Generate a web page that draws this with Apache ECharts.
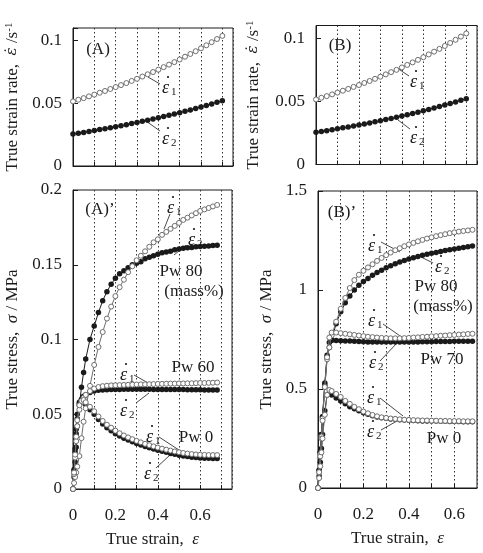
<!DOCTYPE html>
<html>
<head>
<meta charset="utf-8">
<script src="https://cdn.jsdelivr.net/npm/echarts@6/dist/echarts.min.js"></script>
<style>
  html, body { margin: 0; padding: 0; background: #fff; }
  #chart { width: 483px; height: 553px; }
</style>
</head>
<body>
<div id="chart"></div>
<script>
// strain points for the rate panels (A), (B)
const rateStrain = [0, 0.025, 0.05, 0.075, 0.1, 0.125, 0.15, 0.175, 0.2, 0.225, 0.25, 0.275, 0.3, 0.325,
  0.35, 0.375, 0.4, 0.425, 0.45, 0.475, 0.5, 0.525, 0.55, 0.575, 0.6, 0.625, 0.65, 0.675, 0.7]
const rate1 = [0.0515, 0.0528, 0.0541, 0.0555, 0.0569, 0.0584, 0.0598, 0.0614, 0.0629, 0.0645, 0.0661,
  0.0678, 0.0695, 0.0713, 0.0731, 0.0749, 0.0768, 0.0788, 0.0808, 0.0828, 0.0849, 0.0871, 0.0893,
  0.0915, 0.0938, 0.0962, 0.0987, 0.1012, 0.1037]
const rate2 = [0.0255, 0.0262, 0.0268, 0.0275, 0.0283, 0.0290, 0.0297, 0.0305, 0.0313, 0.0321, 0.0329,
  0.0338, 0.0347, 0.0356, 0.0365, 0.0374, 0.0384, 0.0394, 0.0404, 0.0414, 0.0425, 0.0436, 0.0447,
  0.0459, 0.0471, 0.0483, 0.0495, 0.0508, 0.0521]

// strain points for the stress panels (A)', (B)'
const strain = [0, 0.005, 0.01, 0.015, 0.02, 0.03, 0.04, 0.05, 0.06, 0.08, 0.10, 0.12, 0.14, 0.16, 0.18,
  0.20, 0.22, 0.24, 0.26, 0.28, 0.30, 0.32, 0.34, 0.36, 0.38, 0.40, 0.42, 0.44, 0.46, 0.48, 0.50, 0.52,
  0.54, 0.56, 0.58, 0.60, 0.62, 0.64, 0.66, 0.68]

// (A)' stress / MPa
const a80e1 = [0, 0.004, 0.008, 0.011, 0.015, 0.022, 0.034, 0.045, 0.054, 0.069, 0.083, 0.095, 0.105, 0.114,
  0.122, 0.129, 0.135, 0.140, 0.145, 0.149, 0.153, 0.156, 0.159, 0.162, 0.165, 0.167, 0.170, 0.172, 0.174,
  0.176, 0.178, 0.180, 0.1815, 0.183, 0.1845, 0.186, 0.187, 0.188, 0.189, 0.190]
const a80e2 = [0, 0.008, 0.018, 0.028, 0.042, 0.056, 0.068, 0.078, 0.087, 0.100, 0.109, 0.118, 0.126, 0.132,
  0.137, 0.141, 0.144, 0.146, 0.148, 0.150, 0.151, 0.152, 0.154, 0.155, 0.156, 0.157, 0.158, 0.1585, 0.159,
  0.160, 0.1605, 0.161, 0.1613, 0.1616, 0.162, 0.1622, 0.1624, 0.1626, 0.1628, 0.163]
const a60e1 = [0, 0.010, 0.021, 0.032, 0.042, 0.053, 0.058, 0.061, 0.063, 0.0655, 0.0672, 0.0682, 0.0688,
  0.0691, 0.0693, 0.0694, 0.0695, 0.0696, 0.0697, 0.0698, 0.0699, 0.070, 0.070, 0.0701, 0.0702, 0.0703,
  0.0703, 0.0704, 0.0705, 0.0705, 0.0706, 0.0706, 0.0707, 0.0707, 0.0708, 0.0709, 0.0709, 0.071, 0.0711, 0.0712]
const a60e2 = [0, 0.012, 0.025, 0.037, 0.047, 0.057, 0.060, 0.062, 0.063, 0.0645, 0.0655, 0.066, 0.0662,
  0.0664, 0.0665, 0.0666, 0.0666, 0.0667, 0.0667, 0.0667, 0.0667, 0.0667, 0.0667, 0.0667, 0.0666, 0.0666,
  0.0666, 0.0666, 0.0665, 0.0665, 0.0665, 0.0665, 0.0664, 0.0664, 0.0664, 0.0664, 0.0663, 0.0663, 0.0663, 0.0663]
const a0e1 = [0, 0.011, 0.023, 0.035, 0.046, 0.056, 0.059, 0.0595, 0.058, 0.055, 0.052, 0.0485, 0.0455, 0.043,
  0.041, 0.039, 0.0373, 0.0358, 0.0345, 0.0333, 0.0322, 0.0312, 0.0302, 0.0293, 0.0285, 0.0277, 0.027,
  0.0263, 0.0257, 0.0251, 0.0246, 0.0241, 0.0237, 0.0234, 0.0231, 0.0229, 0.0228, 0.0227, 0.0227, 0.0227]
const a0e2 = [0, 0.013, 0.027, 0.040, 0.050, 0.058, 0.0595, 0.058, 0.0565, 0.053, 0.050, 0.0465, 0.0435, 0.041,
  0.039, 0.037, 0.0355, 0.034, 0.0328, 0.0316, 0.0305, 0.0295, 0.0285, 0.0276, 0.0268, 0.026, 0.0252,
  0.0245, 0.0238, 0.0232, 0.0226, 0.0221, 0.0217, 0.0213, 0.021, 0.0208, 0.0206, 0.0205, 0.0204, 0.0204]

// (B)' stress / MPa
const b80e1 = [0, 0.08, 0.17, 0.26, 0.35, 0.51, 0.65, 0.71, 0.77, 0.84, 0.905, 0.96, 1.01, 1.05, 1.077, 1.097,
  1.114, 1.13, 1.147, 1.162, 1.176, 1.189, 1.201, 1.211, 1.221, 1.23, 1.238, 1.246, 1.253, 1.26, 1.266,
  1.272, 1.277, 1.282, 1.287, 1.291, 1.295, 1.298, 1.301, 1.304]
const b80e2 = [0, 0.09, 0.18, 0.27, 0.36, 0.52, 0.66, 0.71, 0.75, 0.83, 0.89, 0.935, 0.97, 1.0, 1.024, 1.043,
  1.058, 1.074, 1.088, 1.10, 1.112, 1.122, 1.132, 1.141, 1.149, 1.156, 1.163, 1.169, 1.175, 1.18, 1.185,
  1.19, 1.195, 1.199, 1.203, 1.207, 1.211, 1.215, 1.219, 1.222]
const b70e1 = [0, 0.08, 0.16, 0.25, 0.34, 0.51, 0.66, 0.76, 0.785, 0.785, 0.782, 0.779, 0.776, 0.773, 0.77,
  0.767, 0.764, 0.762, 0.76, 0.758, 0.757, 0.756, 0.756, 0.756, 0.757, 0.758, 0.76, 0.761, 0.763, 0.764,
  0.766, 0.767, 0.769, 0.77, 0.772, 0.773, 0.775, 0.776, 0.778, 0.779]
const b70e2 = [0, 0.09, 0.18, 0.27, 0.36, 0.53, 0.67, 0.735, 0.745, 0.745, 0.744, 0.743, 0.742, 0.741, 0.740,
  0.739, 0.738, 0.738, 0.737, 0.737, 0.737, 0.737, 0.737, 0.737, 0.737, 0.738, 0.738, 0.738, 0.739, 0.739,
  0.739, 0.740, 0.740, 0.740, 0.740, 0.741, 0.741, 0.741, 0.741, 0.741]
const b0e1 = [0, 0.05, 0.11, 0.18, 0.25, 0.37, 0.47, 0.495, 0.49, 0.475, 0.46, 0.44, 0.425, 0.41, 0.398, 0.386,
  0.377, 0.369, 0.362, 0.357, 0.354, 0.351, 0.349, 0.347, 0.345, 0.344, 0.343, 0.342, 0.341, 0.341, 0.340,
  0.340, 0.339, 0.339, 0.338, 0.338, 0.338, 0.337, 0.337, 0.337]
const b0e2 = [0, 0.06, 0.13, 0.20, 0.27, 0.39, 0.47, 0.48, 0.47, 0.455, 0.44, 0.425, 0.41, 0.40, 0.39, 0.38,
  0.372, 0.365, 0.359, 0.355, 0.352, 0.349, 0.347, 0.345, 0.343, 0.342, 0.341, 0.340, 0.339, 0.339, 0.338,
  0.338, 0.337, 0.337, 0.336, 0.336, 0.336, 0.335, 0.335, 0.335]

const FONT = 'Liberation Serif'
const INK = '#1a1a1a'
const GREY = '#6e6e6e'

const grids = [
  { left: 73, top: 28, width: 160, height: 138 },
  { left: 316, top: 25.5, width: 161, height: 139 },
  { left: 73, top: 190, width: 159, height: 300 },
  { left: 318, top: 191, width: 159, height: 297 },
]

function xAxis(gi, max, showLabels) {
  return {
    gridIndex: gi, type: 'value', min: 0, max: max, interval: 0.1,
    name: showLabels ? 'True strain,  {i|ε}' : '',
    nameLocation: 'middle', nameGap: 42,
    nameTextStyle: { fontFamily: FONT, fontSize: 17, color: INK,
      rich: { i: { fontFamily: FONT, fontSize: 17, fontStyle: 'italic', color: INK } } },
    axisLine: { lineStyle: { color: INK, width: 1 } },
    axisTick: { inside: true, length: 4, lineStyle: { color: INK } },
    axisLabel: {
      show: showLabels, margin: 18, fontFamily: FONT, fontSize: 17, color: INK,
      showMaxLabel: false,
      formatter: v => (Math.round(v * 10) % 2 === 0 && v < 0.65 ? String(+v.toFixed(1)) : ''),
    },
    splitLine: { show: true, lineStyle: { color: '#333', width: 1, type: [1.5, 2.5] } },
  }
}

function yAxis(gi, max, interval, name, gap) {
  return {
    gridIndex: gi, type: 'value', min: 0, max: max, interval: interval,
    name: name, nameLocation: 'middle', nameGap: gap, nameRotate: 90,
    nameTextStyle: { fontFamily: FONT, fontSize: 17, color: INK,
      rich: {
        i: { fontFamily: FONT, fontSize: 17, fontStyle: 'italic', color: INK },
        d: { fontFamily: 'DejaVu Serif', fontSize: 15, fontStyle: 'italic', color: INK },
        sup: { fontFamily: FONT, fontSize: 11, color: INK, verticalAlign: 'top' },
      } },
    axisLine: { lineStyle: { color: INK, width: 1 } },
    axisTick: { inside: true, length: 5, lineStyle: { color: INK } },
    axisLabel: { margin: 11, fontFamily: FONT, fontSize: 17, color: INK,
      formatter: v => (Math.abs(v / interval - Math.round(v / interval)) > 1e-6 ? '' : String(+v.toFixed(2))) },
    splitLine: { show: false },
  }
}

function line(gi, xs, ys, open) {
  return {
    type: 'line', xAxisIndex: gi, yAxisIndex: gi,
    data: xs.map((x, i) => [x, ys[i]]),
    symbol: 'circle', symbolSize: open ? 5 : 5.5,
    showAllSymbol: true, animation: false, silent: true,
    lineStyle: { color: open ? GREY : INK, width: 1 },
    itemStyle: open ? { color: '#fff', borderColor: GREY, borderWidth: 1 } : { color: INK, borderWidth: 0 },
    z: open ? 3 : 2,
  }
}

const rateName = 'True strain rate,  {d|ε\u0307} /s{sup|-1}'
const stressName = 'True stress,  {i|σ} / MPa'

// annotation text and leader lines (pixel layout)
const panelTags = [
  ['(A)', 98, 50], ['(B)', 340, 46], ['(A)\u2019', 100, 210], ['(B)\u2019', 342, 213],
  ['Pw 80', 181, 272], ['(mass%)', 194, 292], ['Pw 60', 193, 368], ['Pw 0', 196, 438],
  ['Pw 80', 436, 287], ['(mass%)', 443, 307], ['Pw 70', 442, 360], ['Pw 0', 444, 439],
]
const epsTags = [
  [162, 88, '1'], [162, 139, '2'], [410, 82, '1'], [410, 138, '2'],
  [167, 208, '1'], [188, 240, '2'], [120, 375, '1'], [120, 411, '2'], [146, 437, '1'], [144, 474, '2'],
  [368, 246, '1'], [435, 267, '2'], [368, 321, '1'], [369, 363, '2'], [367, 398, '1'], [367, 432, '2'],
]
const leaders = [
  [148, 77, 160, 84], [146, 121, 160, 131], [397, 68, 409, 76], [398, 120, 410, 129],
  [170, 214, 164, 229], [186, 245, 174, 255], [134, 375, 150, 384], [136, 403, 149, 393],
  [159, 437, 182, 452], [156, 468, 170, 455],
  [381, 242, 400, 252], [433, 263, 421, 257], [383, 324, 403, 338], [380, 361, 397, 343],
  [380, 398, 403, 416], [381, 430, 397, 421],
]

const graphic = []
panelTags.forEach(([t, x, y]) => graphic.push({
  type: 'text', x: x, y: y, silent: true,
  style: { text: t, fontFamily: FONT, fontSize: 17, fill: INK, align: 'center', verticalAlign: 'middle' },
}))
epsTags.forEach(([x, y, s]) => {
  graphic.push({ type: 'text', x: x, y: y, silent: true,
    style: { text: 'ε', fontFamily: FONT, fontSize: 18, fontStyle: 'italic', fill: INK, verticalAlign: 'middle' } })
  graphic.push({ type: 'text', x: x + 9, y: y + 4, silent: true,
    style: { text: s, fontFamily: FONT, fontSize: 11, fill: INK, verticalAlign: 'middle' } })
  graphic.push({ type: 'circle', silent: true, shape: { cx: x + 6, cy: y - 11, r: 1.1 }, style: { fill: INK } })
})
leaders.forEach(([x1, y1, x2, y2]) => graphic.push({
  type: 'line', silent: true, shape: { x1, y1, x2, y2 }, style: { stroke: INK, lineWidth: 0.8 },
}))

const chart = echarts.init(document.getElementById('chart'), null, { renderer: 'canvas' })
chart.setOption({
  backgroundColor: '#fff',
  animation: false,
  textStyle: { fontFamily: FONT },
  grid: grids.map(g => Object.assign({ show: true, borderColor: INK, borderWidth: 1, containLabel: false }, g)),
  xAxis: [xAxis(0, 0.75, false), xAxis(1, 0.75, false), xAxis(2, 0.75, true), xAxis(3, 0.7, true)],
  yAxis: [
    yAxis(0, 0.11, 0.05, rateName, 52),
    yAxis(1, 0.11, 0.05, rateName, 54),
    yAxis(2, 0.2, 0.05, stressName, 52),
    yAxis(3, 1.5, 0.5, stressName, 43),
  ],
  series: [
    line(0, rateStrain, rate2, false), line(0, rateStrain, rate1, true),
    line(1, rateStrain, rate2, false), line(1, rateStrain, rate1, true),
    line(2, strain, a80e2, false), line(2, strain, a80e1, true),
    line(2, strain, a60e2, false), line(2, strain, a60e1, true),
    line(2, strain, a0e2, false), line(2, strain, a0e1, true),
    line(3, strain, b80e2, false), line(3, strain, b80e1, true),
    line(3, strain, b70e2, false), line(3, strain, b70e1, true),
    line(3, strain, b0e2, false), line(3, strain, b0e1, true),
  ],
  graphic: graphic,
})
</script>
</body>
</html>
